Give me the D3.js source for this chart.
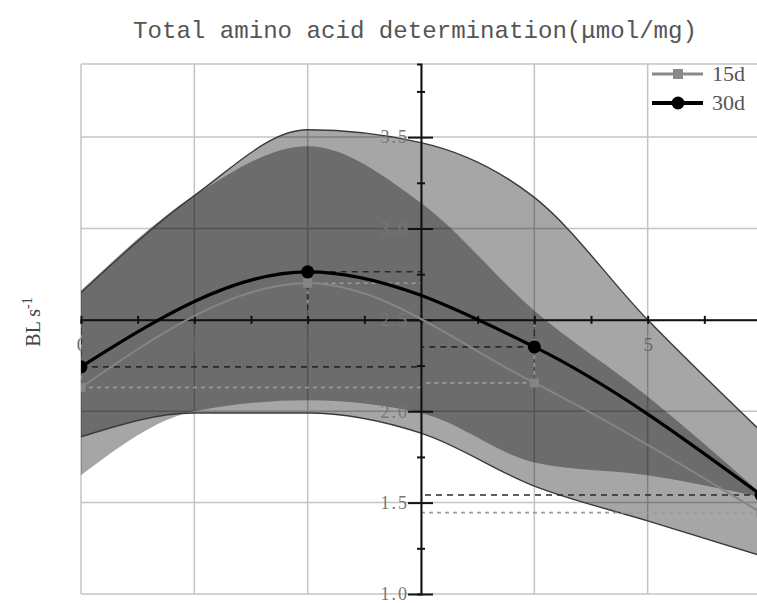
<!DOCTYPE html>
<html>
<head>
<meta charset="utf-8">
<script src="https://cdn.jsdelivr.net/npm/d3@7"></script>
<style>
  body { margin: 0; background: #fff; }
  text { font-family: "Liberation Serif", "DejaVu Serif", serif; }
</style>
</head>
<body>
<div id="chart"></div>
<script>
// band samples at each day
var bandDays = [0, 1, 2, 3, 4, 5, 6];
var band15Upper = [2.65, 3.18, 3.54, 3.47, 3.17, 2.50, 1.89];
var band15Lower = [1.86, 1.99, 1.99, 1.88, 1.59, 1.40, 1.21];
var band30Upper = [2.66, 3.18, 3.45, 3.14, 2.55, 2.08, 1.55];
var band30Lower = [1.65, 2.00, 2.06, 1.99, 1.72, 1.65, 1.53];

// measured points
var pointDays = [0, 2, 4, 6];
var series15 = [2.13, 2.70, 2.155, 1.445];
var series30 = [2.243, 2.763, 2.352, 1.542];

var xTickLabels = ["0", "1", "2", "", "4", "5", "6"];
var yTickLabels = ["1.0", "1.5", "2.0", "2.5", "3.0", "3.5"];
var legendNames = ["15d", "30d"];

var width = 757, height = 603;

var x = d3.scaleLinear().domain([0, 6]).range([81, 761]);
var y = d3.scaleLinear().domain([1.0, 3.9]).range([594, 64]);

var svg = d3.select("#chart").append("svg")
    .attr("width", width)
    .attr("height", height);

svg.append("defs").append("clipPath").attr("id", "plot")
  .append("rect")
    .attr("x", x(0)).attr("y", y(3.9))
    .attr("width", x(6) - x(0)).attr("height", y(1.0) - y(3.9));

// grid
var grid = svg.append("g");
grid.selectAll(".vg")
    .data(d3.range(0, 7))
  .enter().append("line")
    .attr("x1", function(d) { return x(d); })
    .attr("x2", function(d) { return x(d); })
    .attr("y1", y(3.9)).attr("y2", y(1.0))
    .attr("stroke", "#c4c4c4").attr("stroke-width", 1.5);
grid.selectAll(".hg")
    .data([1.0, 1.5, 2.0, 2.5, 3.0, 3.5, 3.9])
  .enter().append("line")
    .attr("x1", x(0)).attr("x2", x(6))
    .attr("y1", function(d) { return y(d); })
    .attr("y2", function(d) { return y(d); })
    .attr("stroke", "#c4c4c4").attr("stroke-width", 1.5);

var plot = svg.append("g").attr("clip-path", "url(#plot)");

function bandData(up, lo) {
  return bandDays.map(function(d, i) { return {x: d, hi: up[i], lo: lo[i]}; });
}
var area = d3.area()
    .curve(d3.curveMonotoneX)
    .x(function(d) { return x(d.x); })
    .y0(function(d) { return y(d.lo); })
    .y1(function(d) { return y(d.hi); });
var edge = d3.line().curve(d3.curveMonotoneX)
    .x(function(d) { return x(d.x); })
    .y(function(d) { return y(d.v); });

var b15 = bandData(band15Upper, band15Lower);
var b30 = bandData(band30Upper, band30Lower);

plot.append("path").datum(b15)
    .attr("d", area).attr("fill", "#000").attr("fill-opacity", 0.35);
plot.append("path").datum(b30)
    .attr("d", area).attr("fill", "#000").attr("fill-opacity", 0.35);

// outline of the 15d band
[band15Upper, band15Lower].forEach(function(arr) {
  plot.append("path")
      .datum(bandDays.map(function(d, i) { return {x: d, v: arr[i]}; }))
      .attr("d", edge)
      .attr("fill", "none").attr("stroke", "#3a3a3a").attr("stroke-width", 1.4);
});

// drop lines to the axes
function dropLines(vals, color, dash) {
  pointDays.forEach(function(d, i) {
    plot.append("line")
        .attr("x1", x(d)).attr("x2", x(3))
        .attr("y1", y(vals[i])).attr("y2", y(vals[i]))
        .attr("stroke", color).attr("stroke-width", 1.6)
        .attr("stroke-dasharray", dash);
    plot.append("line")
        .attr("x1", x(d)).attr("x2", x(d))
        .attr("y1", y(vals[i])).attr("y2", y(2.5))
        .attr("stroke", color).attr("stroke-width", 1.6)
        .attr("stroke-dasharray", dash);
  });
}
dropLines(series15, "#9a9a9a", "4,4");
dropLines(series30, "#2a2a2a", "6,5");

// x axis at y = 2.5
var xAxis = svg.append("g")
    .attr("transform", "translate(0," + y(2.5) + ")")
    .call(d3.axisBottom(x)
      .tickValues(d3.range(0, 6.01, 0.5))
      .tickSizeOuter(0)
      .tickSize(4)
      .tickPadding(14)
      .tickFormat(function(d) { return d % 1 === 0 ? xTickLabels[d] : ""; }));
xAxis.select(".domain").attr("stroke", "#111").attr("stroke-width", 2);
xAxis.selectAll(".tick line").attr("y1", -4).attr("stroke", "#111").attr("stroke-width", 2);
xAxis.selectAll(".tick text")
    .attr("fill", "#6a6a6a")
    .style("font-family", "Liberation Serif")
    .style("font-size", "19px");

// y axis at x = 3
var yAxis = svg.append("g")
    .attr("transform", "translate(" + x(3) + ",0)")
    .call(d3.axisLeft(y)
      .tickValues(d3.range(1.0, 3.76, 0.25))
      .tickSizeOuter(0)
      .tickSize(4)
      .tickPadding(12)
      .tickFormat(function(d) {
        var k = Math.round(d * 4);
        return k % 2 === 0 ? yTickLabels[(k - 4) / 2] : "";
      }));
yAxis.select(".domain").attr("stroke", "#111").attr("stroke-width", 2);
yAxis.selectAll(".tick line")
    .attr("stroke", "#111").attr("stroke-width", 2)
    .attr("x1", function(d) { return Math.round(d * 4) % 2 === 0 ? 12 : 4; })
    .attr("x2", function(d) { return Math.round(d * 4) % 2 === 0 ? -13 : -4; });
yAxis.selectAll(".tick text")
    .attr("fill", "#777")
    .attr("x", -12)
    .style("font-family", "Liberation Serif")
    .style("font-size", "18px")
    .style("letter-spacing", "2px");

// series lines, drawn above the axes
var marks = svg.append("g").attr("clip-path", "url(#plot)");
var line = d3.line().curve(d3.curveMonotoneX)
    .x(function(d) { return x(d.x); })
    .y(function(d) { return y(d.v); });
var p15 = pointDays.map(function(d, i) { return {x: d, v: series15[i]}; });
var p30 = pointDays.map(function(d, i) { return {x: d, v: series30[i]}; });

marks.append("path").datum(p15)
    .attr("d", line).attr("fill", "none")
    .attr("stroke", "#858585").attr("stroke-width", 2);
marks.selectAll(".sq")
    .data(p15)
  .enter().append("rect")
    .attr("x", function(d) { return x(d.x) - 4.5; })
    .attr("y", function(d) { return y(d.v) - 4.5; })
    .attr("width", 9).attr("height", 9)
    .attr("fill", "#858585");

marks.append("path").datum(p30)
    .attr("d", line).attr("fill", "none")
    .attr("stroke", "#000").attr("stroke-width", 3.2);
marks.selectAll(".dot")
    .data(p30)
  .enter().append("circle")
    .attr("cx", function(d) { return x(d.x); })
    .attr("cy", function(d) { return y(d.v); })
    .attr("r", 6.5)
    .attr("fill", "#000");

// legend
var legend = svg.append("g");
[0, 1].forEach(function(i) {
  var ly = 74 + i * 29;
  legend.append("line")
      .attr("x1", 652).attr("x2", 703).attr("y1", ly).attr("y2", ly)
      .attr("stroke", i ? "#000" : "#8a8a8a").attr("stroke-width", i ? 4 : 3);
  if (i) {
    legend.append("circle").attr("cx", 678).attr("cy", ly).attr("r", 6.5).attr("fill", "#000");
  } else {
    legend.append("rect").attr("x", 673).attr("y", ly - 5).attr("width", 10).attr("height", 10).attr("fill", "#8a8a8a");
  }
  legend.append("text")
      .attr("x", 712).attr("y", ly + 7)
      .attr("fill", "#555")
      .style("font-size", "22px")
      .text(legendNames[i]);
});

// title
svg.append("text")
    .attr("x", 133).attr("y", 38)
    .attr("textLength", 564).attr("lengthAdjust", "spacingAndGlyphs")
    .attr("fill", "#555")
    .style("font-family", "Liberation Mono")
    .style("font-size", "24px")
    .text("Total amino acid determination(\u03bcmol/mg)");

// y label
var yl = svg.append("text")
    .attr("transform", "translate(40," + 322 + ") rotate(-90)")
    .attr("text-anchor", "middle")
    .attr("fill", "#444")
    .style("font-size", "20px");
yl.append("tspan").text("BL s");
yl.append("tspan").attr("dy", -8).style("font-size", "14px").text("-1");
</script>
</body>
</html>
